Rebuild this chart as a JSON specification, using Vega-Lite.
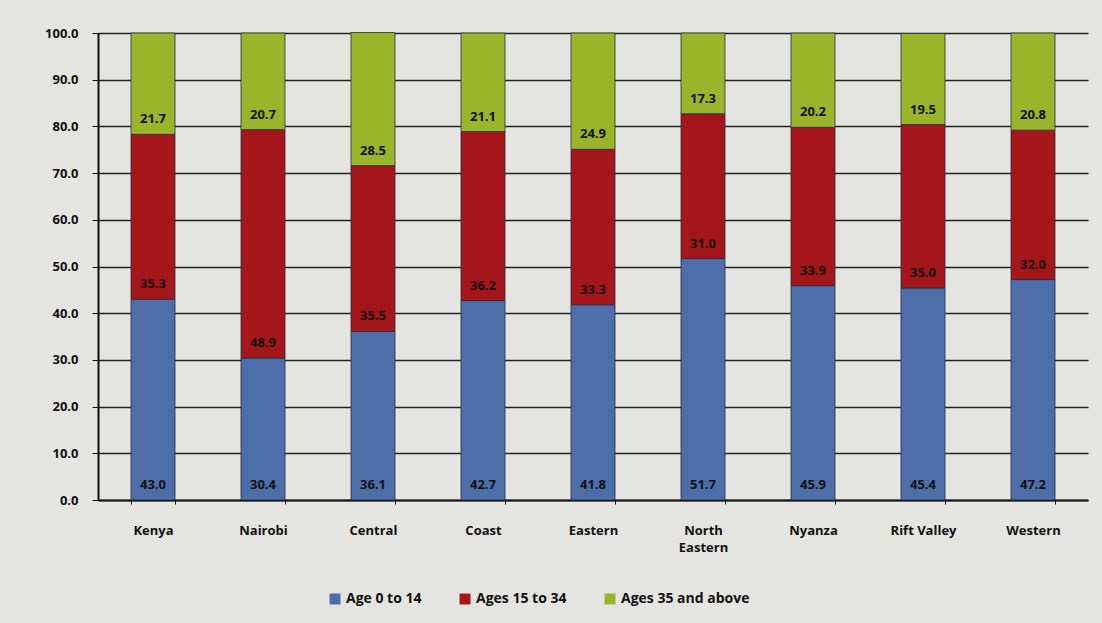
{
  "$schema": "https://vega.github.io/schema/vega-lite/v6.json",
  "width": 990,
  "height": 467,
  "autosize": "none",
  "padding": {"left": 98, "top": 33, "right": 14, "bottom": 123},
  "background": "#e4e4e0",
  "config": {
    "view": {"stroke": null},
    "font": "Open Sans",
    "axis": {"labelFont": "Open Sans", "labelFontWeight": "bold", "labelColor": "#111", "domainColor": "#111", "tickColor": "#111"},
    "legend": {"labelFont": "Open Sans", "labelFontWeight": "bold", "labelColor": "#111"}
  },
  "data": {
    "values": [
      {"region": "Kenya", "group": "Age 0 to 14", "o": 1, "v": 43.0},
      {"region": "Kenya", "group": "Ages 15 to 34", "o": 2, "v": 35.3},
      {"region": "Kenya", "group": "Ages 35 and above", "o": 3, "v": 21.7},
      {"region": "Nairobi", "group": "Age 0 to 14", "o": 1, "v": 30.4},
      {"region": "Nairobi", "group": "Ages 15 to 34", "o": 2, "v": 48.9},
      {"region": "Nairobi", "group": "Ages 35 and above", "o": 3, "v": 20.7},
      {"region": "Central", "group": "Age 0 to 14", "o": 1, "v": 36.1},
      {"region": "Central", "group": "Ages 15 to 34", "o": 2, "v": 35.5},
      {"region": "Central", "group": "Ages 35 and above", "o": 3, "v": 28.5},
      {"region": "Coast", "group": "Age 0 to 14", "o": 1, "v": 42.7},
      {"region": "Coast", "group": "Ages 15 to 34", "o": 2, "v": 36.2},
      {"region": "Coast", "group": "Ages 35 and above", "o": 3, "v": 21.1},
      {"region": "Eastern", "group": "Age 0 to 14", "o": 1, "v": 41.8},
      {"region": "Eastern", "group": "Ages 15 to 34", "o": 2, "v": 33.3},
      {"region": "Eastern", "group": "Ages 35 and above", "o": 3, "v": 24.9},
      {"region": "North Eastern", "group": "Age 0 to 14", "o": 1, "v": 51.7},
      {"region": "North Eastern", "group": "Ages 15 to 34", "o": 2, "v": 31.0},
      {"region": "North Eastern", "group": "Ages 35 and above", "o": 3, "v": 17.3},
      {"region": "Nyanza", "group": "Age 0 to 14", "o": 1, "v": 45.9},
      {"region": "Nyanza", "group": "Ages 15 to 34", "o": 2, "v": 33.9},
      {"region": "Nyanza", "group": "Ages 35 and above", "o": 3, "v": 20.2},
      {"region": "Rift Valley", "group": "Age 0 to 14", "o": 1, "v": 45.4},
      {"region": "Rift Valley", "group": "Ages 15 to 34", "o": 2, "v": 35.0},
      {"region": "Rift Valley", "group": "Ages 35 and above", "o": 3, "v": 19.5},
      {"region": "Western", "group": "Age 0 to 14", "o": 1, "v": 47.2},
      {"region": "Western", "group": "Ages 15 to 34", "o": 2, "v": 32.0},
      {"region": "Western", "group": "Ages 35 and above", "o": 3, "v": 20.8}
    ]
  },
  "transform": [
    {"stack": "v", "groupby": ["region"], "sort": [{"field": "o", "order": "ascending"}], "as": ["y0", "y1"]}
  ],
  "encoding": {
    "x": {
      "field": "region", "type": "nominal", "sort": null, "title": null,
      "scale": {"paddingInner": 0.6, "paddingOuter": 0.3},
      "axis": {"labelAngle": 0, "labelFontSize": 13, "labelPadding": 20, "labelLineHeight": 17, "tickBand": "extent", "tickSize": 4, "domainWidth": 2,
        "labelExpr": "datum.value == 'North Eastern' ? ['North', 'Eastern'] : datum.value"}
    }
  },
  "layer": [
    {
      "mark": {"type": "bar", "stroke": "#2a2a40", "strokeWidth": 0.8},
      "encoding": {
        "y": {
          "field": "y0", "type": "quantitative", "title": null,
          "scale": {"domain": [0, 100], "nice": false},
          "axis": {"values": [0, 10, 20, 30, 40, 50, 60, 70, 80, 90, 100], "format": ".1f", "labelFontSize": 13, "grid": true, "gridColor": "#222", "gridWidth": 1.5, "tickSize": 6, "domainWidth": 2, "labelPadding": 14}
        },
        "y2": {"field": "y1"},
        "color": {
          "field": "group", "type": "nominal", "title": null,
          "scale": {"domain": ["Age 0 to 14", "Ages 15 to 34", "Ages 35 and above"], "range": ["#4d6ea8", "#a5161a", "#9bb52a"]},
          "legend": {"orient": "none", "legendX": 230, "legendY": 559, "direction": "horizontal", "symbolType": "square", "symbolSize": 120, "labelFontSize": 14, "columnPadding": 36, "symbolStrokeWidth": 0}
        }
      }
    },
    {
      "mark": {"type": "text", "dy": -15, "fontWeight": "bold", "fontSize": 13, "color": "#111"},
      "encoding": {
        "y": {"field": "y0", "type": "quantitative"},
        "text": {"field": "v", "type": "quantitative", "format": ".1f"}
      }
    }
  ]
}
